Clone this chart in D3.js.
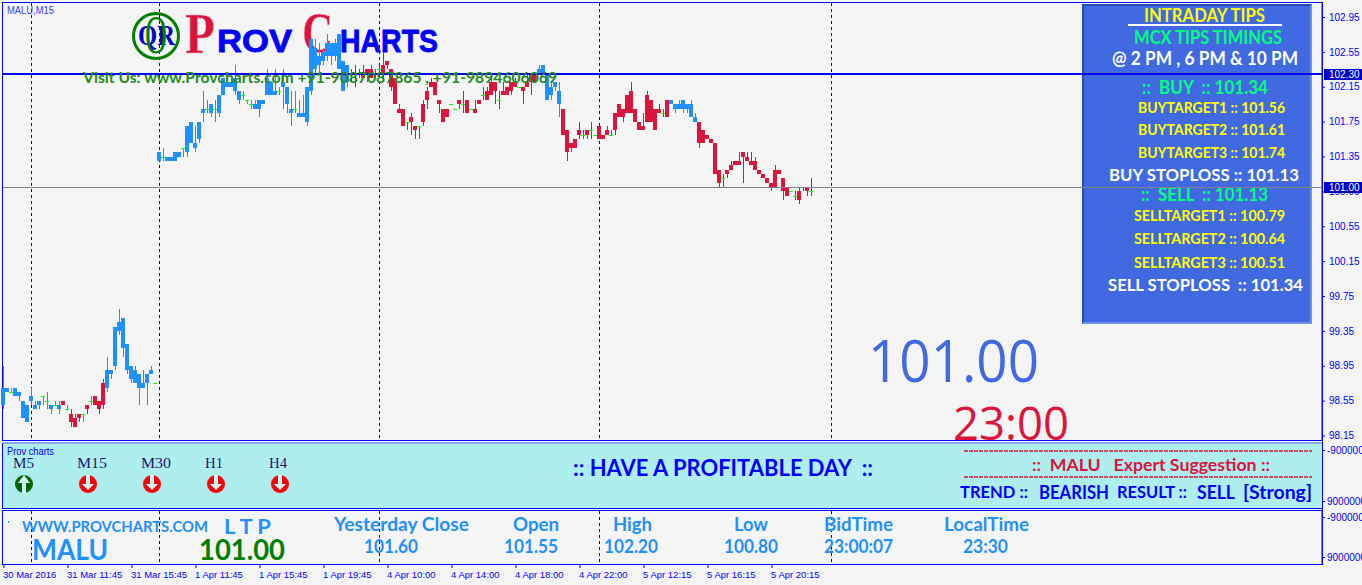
<!DOCTYPE html>
<html>
<head>
<meta charset="utf-8">
<title>MALU M15</title>
<script src="https://cdnjs.cloudflare.com/ajax/libs/d3/7.8.5/d3.min.js"></script>
<style>
  html, body { margin: 0; padding: 0; background: #F5F5F5; overflow: hidden; }
  svg { display: block; }
</style>
</head>
<body>
<script>
/*global d3*/

// M15 candles (prices move in steps of 0.05)
var candleOpen = [
  98.5,98.65,98.65,98.6,98.6,98.35,98.3,98.55,98.45,98.5,
  98.6,98.55,98.45,98.5,98.45,98.55,98.45,98.4,98.35,98.4,
  98.4,98.5,98.55,98.6,98.55,98.75,98.7,98.85,98.95,99.35,
  99.15,98.9,98.8,98.75,98.7,98.7,98.75,98.85,98.75,101.3,
  101.35,101.3,101.3,101.3,101.35,101.45,101.4,101.5,101.45,101.55,
  101.85,101.9,101.85,101.9,101.85,102.05,102.15,102.15,102.1,102,
  102.05,102,101.95,101.9,101.9,101.95,102.05,102.05,102.05,102.1,
  102.15,101.95,101.85,101.9,101.8,101.8,101.75,102.1,102.35,102.4,
  102.45,102.5,102.5,102.5,102.35,102.1,102.2,102.3,102.3,102.3,
  102.3,102.35,102.35,102.3,102.35,102.4,102.45,102.35,102.25,101.9,
  101.9,101.75,101.8,101.7,101.7,101.95,102.1,102.2,102.2,102,
  101.9,101.9,101.95,101.9,102,101.95,102,101.9,101.9,102,
  102.05,102.1,102.2,102.2,102,102.1,102.15,102.2,102.2,102.15,
  102.15,102.2,102.3,102.3,102.3,102.3,102,102.05,102.15,101.95,
  101.9,101.65,101.5,101.55,101.65,101.6,101.65,101.65,101.6,101.7,
  101.6,101.65,101.6,101.85,101.95,101.9,102.05,102.1,101.9,101.75,
  101.7,102.05,102,101.9,101.9,101.85,102,101.95,101.9,101.9,
  101.9,101.9,101.8,101.75,101.75,101.65,101.6,101.55,101.5,101.2,
  101.1,101.2,101.25,101.3,101.3,101.4,101.35,101.3,101.3,101.2,
  101.15,101.1,101.05,101.2,101.2,101.1,101,100.95,100.9,100.95,
  101,101,100.95,101
];
var candleHigh = [
  98.95,98.7,98.7,98.7,98.65,98.55,98.5,98.7,98.55,98.55,
  98.6,98.65,98.5,98.55,98.55,98.55,98.5,98.45,98.4,98.4,
  98.4,98.5,98.6,98.6,98.55,98.8,99.05,98.9,99.4,99.6,
  99.5,99.2,98.95,98.95,98.85,98.9,98.85,98.95,98.75,101.4,
  101.45,101.35,101.35,101.4,101.4,101.45,101.7,101.75,101.7,101.75,
  102.1,102,101.95,102,102.05,102.25,102.25,102.2,102.4,102.1,
  102.1,102,102,102,102,102,102.35,102.2,102.35,102.15,
  102.35,102.15,102.1,102.1,102,102.05,102.15,102.7,102.7,102.65,
  102.6,102.75,102.65,102.7,102.75,102.45,102.4,102.35,102.4,102.35,
  102.4,102.35,102.4,102.35,102.4,102.55,102.45,102.35,102.25,101.95,
  101.9,101.75,101.85,101.7,101.7,102,102.15,102.25,102.2,102,
  101.9,101.9,101.95,101.9,102,102.1,102,101.9,102,102,
  102.15,102.15,102.25,102.2,102.1,102.2,102.15,102.2,102.25,102.15,
  102.15,102.3,102.3,102.3,102.4,102.4,102.3,102.2,102.2,102.2,
  101.9,101.65,101.5,101.55,101.75,101.65,101.65,101.75,101.6,101.7,
  101.6,101.7,101.65,101.85,101.95,101.9,102.05,102.2,101.9,101.75,
  101.85,102.1,102,101.9,101.95,101.9,102,102,101.95,102,
  102,101.95,102,101.85,101.75,101.65,101.6,101.55,101.5,101.2,
  101.15,101.2,101.3,101.3,101.4,101.4,101.4,101.4,101.35,101.2,
  101.15,101.1,101.05,101.25,101.2,101.1,101,100.95,100.95,101,
  101,101,101.1,101
];
var candleLow = [
  98.45,98.65,98.65,98.6,98.55,98.35,98.3,98.5,98.45,98.45,
  98.5,98.45,98.4,98.5,98.4,98.5,98.45,98.25,98.25,98.3,
  98.3,98.4,98.5,98.5,98.4,98.45,98.65,98.8,98.9,99.3,
  99.05,98.85,98.75,98.75,98.5,98.7,98.5,98.85,98.75,101.3,
  101.3,101.3,101.3,101.3,101.35,101.35,101.35,101.5,101.4,101.5,
  101.75,101.85,101.8,101.75,101.8,102.05,102.15,102.15,102.05,101.95,
  102,101.95,101.9,101.9,101.8,101.95,102.05,102.05,102.05,102.05,
  101.9,101.85,101.7,101.85,101.8,101.8,101.7,102.05,102.3,102.3,
  102.4,102.45,102.4,102.45,102.35,102.1,102.15,102.2,102.15,102.25,
  102.25,102.2,102.25,102.25,102.3,102.2,102.35,102.1,101.95,101.85,
  101.7,101.65,101.6,101.55,101.55,101.7,101.9,102.15,102.05,101.85,
  101.75,101.8,101.95,101.9,101.9,101.85,101.85,101.9,101.85,101.95,
  102,102,102.05,101.95,101.9,102.05,102.05,102.05,102.15,102.15,
  101.95,102.15,102.05,102.2,102.3,102.3,102,102,102.1,101.8,
  101.6,101.3,101.4,101.45,101.55,101.55,101.55,101.55,101.6,101.55,
  101.55,101.6,101.6,101.6,101.8,101.75,101.85,101.85,101.75,101.65,
  101.65,101.75,101.75,101.65,101.85,101.8,101.8,101.95,101.85,101.9,
  101.85,101.85,101.8,101.75,101.45,101.5,101.55,101.5,101.15,101,
  101,101.1,101.2,101.25,101.25,101.05,101.3,101.25,101.2,101.15,
  101.1,101.05,100.95,101,101.15,100.85,100.9,100.95,100.85,100.8,
  100.95,100.9,100.9,101
];
var candleClose = [
  98.7,98.7,98.65,98.7,98.65,98.55,98.5,98.6,98.5,98.55,
  98.6,98.55,98.5,98.5,98.5,98.5,98.45,98.3,98.25,98.35,
  98.4,98.45,98.55,98.5,98.45,98.5,98.9,98.9,99.4,99.45,
  99.5,99.2,98.95,98.9,98.85,98.75,98.85,98.9,98.75,101.4,
  101.35,101.35,101.35,101.4,101.4,101.45,101.7,101.75,101.5,101.75,
  101.9,101.9,101.95,101.9,102.05,102.25,102.2,102.2,102.25,102.1,
  102.05,102,101.95,101.95,102,102,102.25,102.2,102.1,102.1,
  102.2,102.15,101.9,101.9,101.85,101.85,102.15,102.7,102.6,102.5,
  102.55,102.65,102.65,102.65,102.75,102.45,102.4,102.3,102.3,102.3,
  102.25,102.3,102.25,102.3,102.35,102.3,102.4,102.15,101.95,101.85,
  101.7,101.75,101.75,101.65,101.7,101.75,102,102.15,102.05,101.95,
  101.75,101.8,101.95,101.9,101.95,101.95,101.85,101.9,101.85,101.95,
  102.05,102,102.05,102.1,102,102.05,102.05,102.1,102.15,102.15,
  102.1,102.15,102.2,102.2,102.35,102.4,102.3,102.15,102.2,102.1,
  101.6,101.4,101.45,101.45,101.6,101.6,101.6,101.65,101.6,101.55,
  101.55,101.6,101.6,101.65,101.8,101.8,101.85,101.85,101.75,101.65,
  101.65,101.75,101.75,101.65,101.85,101.85,101.8,102,101.95,101.95,
  102,101.95,101.95,101.8,101.5,101.5,101.55,101.5,101.15,101.05,
  101.1,101.15,101.2,101.25,101.25,101.35,101.3,101.25,101.2,101.15,
  101.1,101.05,101,101,101.15,100.95,100.9,100.95,100.9,100.85,
  101,100.95,100.95,101
];

var priceTicks = [102.95,102.55,102.15,101.75,101.35,100.95,100.55,100.15,99.75,99.35,98.95,98.55,98.15];
var timeTickBars = [0,16,32,48,64,80,96,112,128,144,160,176,192];
var timeTickLabels = ["30 Mar 2016","31 Mar 11:45","31 Mar 15:45","1 Apr 11:45","1 Apr 15:45","1 Apr 19:45","4 Apr 10:00","4 Apr 14:00","4 Apr 18:00","4 Apr 22:00","5 Apr 12:15","5 Apr 16:15","5 Apr 20:15"];
var separatorBars = [7,39,94,149,207];
var levelHigh = 102.30;
var levelLast = 101.00;

var timeframes = ["M5","M15","M30","H1","H4"];
var timeframeWidths = [21,30,30,18,18];
var signals = ["up","down","down","down","down"];

var w = 1362;
var h = 585;

var svg = d3.select("body")
            .append("svg")
            .attr("width", w)
            .attr("height", h);

// 16 bars between time labels, 4px a bar
var x = d3.scaleLinear().domain([0, 16]).range([3.5, 67.5]);
var y = d3.scaleLinear().domain([102.95, 98.15]).range([17, 435.5]);

var sans = "Lato, Carlito, sans-serif";
var tickFont = "'Liberation Sans', sans-serif";
var serif = "'Liberation Serif', serif";

// text with a fixed start, width and baseline, so it sits where the picture has it
function label(parent, str, left, width, base, size, color, weight, family) {
  return parent.append("text")
    .attr("x", left)
    .attr("y", base)
    .attr("textLength", width)
    .attr("lengthAdjust", "spacingAndGlyphs")
    .attr("font-family", family || sans)
    .attr("font-size", size)
    .attr("font-weight", weight || "bold")
    .attr("fill", color)
    .style("white-space", "pre")
    .text(str);
}

//window backgrounds
svg.append("rect").attr("x", 0).attr("y", 0).attr("width", w).attr("height", h).attr("fill", "#F5F5F5");

var frames = svg.append("g").attr("fill", "none").attr("stroke", "#0000FF").attr("stroke-width", 1);
[[2.5, 2.5, 440.5], [2.5, 443.5, 508.5], [2.5, 510.5, 564.5]].forEach(function(f) {
  frames.append("rect")
    .attr("x", f[0]).attr("y", f[1])
    .attr("width", 1322 - f[0]).attr("height", f[2] - f[1]);
});

//period separators, running over the main and bottom windows
var seps = svg.append("g").attr("stroke", "#0000CD").attr("stroke-dasharray", "3,3");
separatorBars.forEach(function(b) {
  var sx = Math.floor(x(b)) + 0.5;
  seps.append("line").attr("x1", sx).attr("x2", sx).attr("y1", 3).attr("y2", 440);
  seps.append("line").attr("x1", sx).attr("x2", sx).attr("y1", 511).attr("y2", 564);
});

//logo sits behind the candles
var logo = svg.append("g");
logo.append("circle").attr("cx", 156).attr("cy", 36).attr("r", 22.5)
  .attr("fill", "none").attr("stroke", "#008000").attr("stroke-width", 3);
label(logo, "QR", 138, 37, 45, 30, "#0000CD", "bold", serif);
label(logo, "O", 145, 22, 53, 54, "#008000", "normal", serif);
label(logo, "P", 185, 30, 53, 56, "#DC143C", "bold", serif).attr("stroke", "#F4B6C6").attr("stroke-width", 0.6);
label(logo, "ROV", 217, 75, 52, 32, "#0000FF", "bold", "'Liberation Sans', sans-serif").attr("stroke", "#0000FF").attr("stroke-width", 0.8);
label(logo, "C", 302, 31, 52, 56, "#DC143C", "bold", serif).attr("stroke", "#F4B6C6").attr("stroke-width", 0.6);
label(logo, "HARTS", 340, 98, 52, 32, "#0000FF", "bold", "'Liberation Sans', sans-serif").attr("stroke", "#0000FF").attr("stroke-width", 0.8);

label(svg, "MALU,M15", 7, 47, 14, 10, "#4040FF", "normal", tickFont);

//candles
function candleColor(i) {
  if (candleClose[i] > candleOpen[i]) return "#1E90FF";
  if (candleClose[i] < candleOpen[i]) return "#DC143C";
  return "#00FF00";
}

var bars = svg.append("g").attr("class", "candles").attr("shape-rendering", "crispEdges");
var candle = bars.selectAll("g")
  .data(d3.range(candleOpen.length))
  .enter().append("g");

//wick keeps the body colour, a doji wick goes blue or red like the bars around it
candle.append("rect")
  .attr("x", function(i) { return Math.floor(x(i)); })
  .attr("width", 1)
  .attr("y", function(i) { return Math.round(y(candleHigh[i])); })
  .attr("height", function(i) { return Math.max(0, Math.round(y(candleLow[i])) - Math.round(y(candleHigh[i]))); })
  .attr("fill", function(i) {
    if (candleClose[i] != candleOpen[i]) return candleColor(i);
    return i < 26 || (i > 38 && i < 85) ? "#1E90FF" : "#DC143C";
  });

candle.append("rect")
  .attr("x", function(i) { return Math.floor(x(i)) - 2; })
  .attr("width", 4)
  .attr("y", function(i) { return Math.round(y(Math.max(candleOpen[i], candleClose[i]))); })
  .attr("height", function(i) {
    return Math.max(1, Math.round(y(Math.min(candleOpen[i], candleClose[i]))) - Math.round(y(Math.max(candleOpen[i], candleClose[i]))));
  })
  .attr("fill", function(i) { return candleColor(i); });

//tips panel
var tips = svg.append("g");
tips.append("rect").attr("x", 1082).attr("y", 4).attr("width", 230).attr("height", 320).attr("fill", "#4169E1");
tips.append("path").attr("d", "M1083 323V5H1311").attr("fill", "none").attr("stroke", "#2A4AB8").attr("stroke-width", 2);
tips.append("path").attr("d", "M1083 323H1311V5").attr("fill", "none").attr("stroke", "#6E8EF2").attr("stroke-width", 2);

label(tips, "INTRADAY TIPS", 1144, 121, 22, 18, "#FFFF00");
tips.append("rect").attr("x", 1128).attr("y", 24).attr("width", 154).attr("height", 2).attr("fill", "#FFFFFF");
label(tips, "MCX TIPS TIMINGS", 1134, 148, 44, 18, "#00FF7F");
label(tips, "@ 2 PM , 6 PM & 10 PM", 1112, 186, 65, 18, "#FFFFFF");
label(tips, "::  BUY  :: 101.34", 1142, 126, 94, 18, "#00FF7F");
label(tips, "BUYTARGET1 :: 101.56", 1138, 147, 113, 14.5, "#FFFF00");
label(tips, "BUYTARGET2 :: 101.61", 1138, 147, 135, 14.5, "#FFFF00");
label(tips, "BUYTARGET3 :: 101.74", 1138, 147, 158, 14.5, "#FFFF00");
label(tips, "BUY STOPLOSS :: 101.13", 1109, 190, 181, 17, "#FFFFFF");
label(tips, "::  SELL  :: 101.13", 1141, 127, 201, 18, "#00FF7F");
label(tips, "SELLTARGET1 :: 100.79", 1134, 151, 221, 14.5, "#FFFF00");
label(tips, "SELLTARGET2 :: 100.64", 1134, 151, 244, 14.5, "#FFFF00");
label(tips, "SELLTARGET3 :: 100.51", 1134, 151, 268, 14.5, "#FFFF00");
label(tips, "SELL STOPLOSS  :: 101.34", 1108, 195, 291, 17, "#FFFFFF");

//big price and clock, the clock runs under the indicator window
label(svg, "101.00", 868, 171, 382, 59, "#4169E1", "normal", "'Open Sans', sans-serif");
label(svg, "23:00", 953, 116, 440, 46, "#DC143C", "normal", "'Open Sans', sans-serif");

//level lines
svg.append("line")
  .attr("x1", 3).attr("x2", 1322)
  .attr("y1", Math.round(y(levelHigh))).attr("y2", Math.round(y(levelHigh)))
  .attr("stroke", "#0000FF").attr("stroke-width", 2);
svg.append("line")
  .attr("x1", 3).attr("x2", 1322)
  .attr("y1", Math.floor(y(levelLast)) + 0.5).attr("y2", Math.floor(y(levelLast)) + 0.5)
  .attr("stroke", "#808090").attr("stroke-width", 1);

label(svg, "Visit Us: www.Provcharts.com +91-9087087865 , +91-9894606069", 83, 474, 83, 16, "#228B22");

//price axis
var priceAxis = svg.append("g")
  .attr("class", "price-axis")
  .attr("transform", "translate(1322,0)")
  .call(d3.axisRight(y)
    .tickValues(priceTicks)
    .tickSize(3)
    .tickPadding(4)
    .tickFormat(d3.format(".2f")));
priceAxis.select(".domain").attr("stroke", "#0000FF").attr("d", "M0.5,2V565");
priceAxis.selectAll("line").attr("stroke", "#0000FF");
priceAxis.selectAll("text").attr("fill", "#0000FF").attr("font-family", tickFont).attr("font-size", 10);

//price tags on the axis
[levelHigh, levelLast].forEach(function(p) {
  var tag = svg.append("g").attr("transform", "translate(1324," + Math.round(y(p)) + ")");
  tag.append("rect").attr("x", 0).attr("y", -5).attr("width", 38).attr("height", 11).attr("fill", "#0000CD");
  tag.append("text").attr("x", 5).attr("y", 4)
    .attr("font-family", tickFont).attr("font-size", 10).attr("fill", "#FFFFFF")
    .text(d3.format(".2f")(p));
});

//time axis
var timeAxis = svg.append("g")
  .attr("class", "time-axis")
  .attr("transform", "translate(0,564)")
  .call(d3.axisBottom(x)
    .tickValues(timeTickBars)
    .tickSize(4)
    .tickPadding(3)
    .tickFormat(function(d, i) { return timeTickLabels[i]; }));
timeAxis.select(".domain").remove();
timeAxis.selectAll("line").attr("stroke", "#0000FF");
timeAxis.selectAll("text")
  .attr("fill", "#0000FF")
  .attr("text-anchor", "start")
  .attr("dx", -1)
  .attr("font-family", tickFont)
  .attr("font-size", 9.5);

//indicator window
var panel = svg.append("g");
panel.append("rect").attr("x", 3).attr("y", 444).attr("width", 1319).attr("height", 64).attr("fill", "#AFEEEE");
panel.append("rect").attr("x", 3).attr("y", 442).attr("width", 1319).attr("height", 2).attr("fill", "#8FA8E8");
label(panel, "Prov charts", 7, 47, 455, 10, "#0000FF", "normal", tickFont);

var tfX = d3.scalePoint().domain(timeframes).range([24, 280]);

panel.selectAll(".tf")
  .data(timeframes)
  .enter().append("text")
    .attr("class", "tf")
    .attr("x", function(d) { return tfX(d) - 11; })
    .attr("y", 468)
    .attr("textLength", function(d, i) { return timeframeWidths[i]; })
    .attr("lengthAdjust", "spacingAndGlyphs")
    .attr("font-family", serif)
    .attr("font-size", 15)
    .attr("fill", "#191970")
    .text(function(d) { return d; });

var icon = panel.selectAll(".sig")
  .data(signals)
  .enter().append("g")
    .attr("class", "sig")
    .attr("transform", function(d, i) { return "translate(" + tfX(timeframes[i]) + ",484)"; });
icon.append("circle").attr("r", 9)
  .attr("fill", function(d) { return d == "up" ? "#006400" : "#FF0000"; });
icon.append("path")
  .attr("d", function(d) {
    return d == "up"
      ? "M0,-9L6,-1H2V9H-2V-1H-6Z"
      : "M-2,-9H2V0H6L0,6L-6,0H-2Z";
  })
  .attr("fill", "#C8F4F4");

label(panel, ":: HAVE A PROFITABLE DAY  ::", 573, 300, 476, 22, "#0000FF");

panel.append("line").attr("x1", 964).attr("x2", 1312).attr("y1", 451).attr("y2", 451)
  .attr("stroke", "#DC143C").attr("stroke-width", 1.4).attr("stroke-dasharray", "4,1");
panel.append("line").attr("x1", 964).attr("x2", 1312).attr("y1", 477).attr("y2", 477)
  .attr("stroke", "#DC143C").attr("stroke-width", 1.4).attr("stroke-dasharray", "4,1");
label(panel, "::  MALU   Expert Suggestion ::", 1032, 238, 471, 17, "#DC143C");
label(panel, "TREND ::", 960, 68, 498, 17, "#0000FF");
label(panel, "BEARISH", 1039, 70, 499, 18, "#0000FF");
label(panel, "RESULT ::", 1117, 70, 498, 17, "#0000FF");
label(panel, "SELL", 1197, 38, 499, 18, "#0000FF");
label(panel, "[Strong]", 1243, 69, 499, 18, "#0000FF");

//market info window
var info = svg.append("g");
info.append("rect").attr("x", 8).attr("y", 521).attr("width", 1).attr("height", 2).attr("fill", "#1E90FF");
label(info, "WWW.PROVCHARTS.COM", 22, 186, 532, 16, "#1E90FF");
label(info, "L T P", 224, 47, 534, 21, "#1E90FF");
label(info, "MALU", 32, 76, 560, 29, "#1E90FF");
label(info, "101.00", 199, 86, 560, 29, "#008000");
label(info, "Yesterday Close", 334, 135, 531, 19, "#1E90FF");
label(info, "101.60", 364, 54, 553, 18, "#1E90FF");
label(info, "Open", 513, 46, 531, 19, "#1E90FF");
label(info, "101.55", 504, 54, 553, 18, "#1E90FF");
label(info, "High", 613, 39, 531, 19, "#1E90FF");
label(info, "102.20", 604, 54, 553, 18, "#1E90FF");
label(info, "Low", 734, 34, 531, 19, "#1E90FF");
label(info, "100.80", 724, 54, 553, 18, "#1E90FF");
label(info, "BidTime", 824, 69, 531, 19, "#1E90FF");
label(info, "23:00:07", 824, 69, 553, 18, "#1E90FF");
label(info, "LocalTime", 944, 85, 531, 19, "#1E90FF");
label(info, "23:30", 963, 45, 553, 18, "#1E90FF");

//sub window scale labels, they run off the edge like the picture
[["-900000000", 454], ["900000000", 505], ["-900000000", 521], ["900000000", 561]].forEach(function(s) {
  var ty = s[1] - 3.5;
  svg.append("line").attr("x1", 1322).attr("x2", 1325).attr("y1", ty).attr("y2", ty).attr("stroke", "#0000FF");
  svg.append("text").attr("x", 1327).attr("y", s[1])
    .attr("font-family", tickFont).attr("font-size", 10).attr("fill", "#0000FF")
    .text(s[0]);
});
</script>
</body>
</html>
